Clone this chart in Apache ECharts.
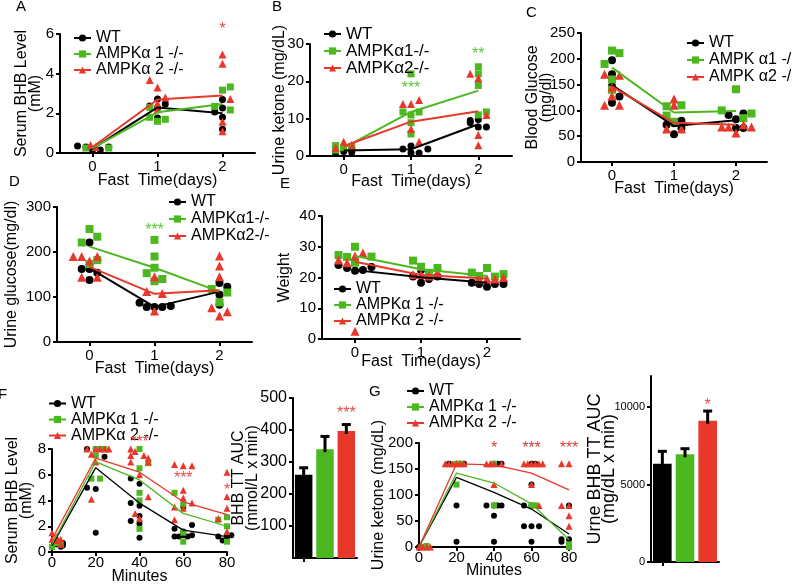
<!DOCTYPE html>
<html><head><meta charset="utf-8">
<script src="https://cdn.jsdelivr.net/npm/echarts@6/dist/echarts.min.js"></script>
<style>html,body{margin:0;padding:0;background:#fff}#c{width:792px;height:586px}</style>
</head><body><div id="c"></div>
<script>
const BLACK='#000000', GREEN='#4cb81f', RED='#e8382b';
const STAR_GREEN='#5cc83a', STAR_RED='#ee4a44';
const FONT='Liberation Sans';

const DAYS=[0,1,2];
const MINUTES=[0,20,40,60,80];
const NAMES_A=['WT','AMPKα 1 -/-','AMPKα 2 -/-'];
const NAMES_BD=['WT','AMPKα1-/-','AMPKα2-/-'];
const NAMES_C=['WT','AMPK α1 -/-','AMPK α2 -/-'];
const BAR_CATS=['WT','AMPKα1-/-','AMPKα2-/-'];

// ---- Panel A: Serum BHB (mM) ----
const A_WT_PTS=[[-0.23,0.35],[-0.1,0.3],[0,0.15],[0.12,0.15],[0.25,0.3],[0.88,2.37],[1,2.72],[1,2.27],[1,1.76],[1.12,2.47],[1.88,2.07],[2,2.7],[2,2.27],[2,1.8],[2,1.2]];
const A_A1_PTS=[[-0.1,0.25],[0.25,0.25],[0.88,1.8],[1,1.6],[1.12,1.7],[0.88,2.3],[1.88,2.35],[2,3.17],[2.12,3.33],[2.12,2.17]];
const A_A2_PTS=[[-0.03,0.4],[0.05,0.3],[0.88,3.68],[1,3.3],[1.12,2.8],[1,2.2],[1,2.5],[2,4.97],[2,4.5],[2.12,2.72],[2,1.57],[2,1.1]];
const A_WT_MEAN=[0.22,2.3,2.0], A_A1_MEAN=[0.25,2.05,2.47], A_A2_MEAN=[0.3,2.7,2.9];
const A_STARS=[[2,6.2,'*']];

// ---- Panel B: Urine ketone ----
const B_WT_PTS=[[-0.12,1.5],[0,1.2],[0.12,1.0],[0.12,1.6],[-0.12,0.8],[0.88,1.9],[1,2.7],[1,0.9],[1.12,0.8],[1.25,1.9],[1.88,8.9],[1.88,9.5],[2,9.8],[2,7.8],[2.12,7.8]];
const B_A1_PTS=[[-0.12,2.8],[-0.12,1.6],[0,2.2],[0.12,2.6],[0.88,11.8],[1,22],[1,11],[1,8.9],[1,5.9],[1.12,11.8],[2,23.9],[2,22],[2,18.9],[2,11],[2.12,11.8]];
const B_A2_PTS=[[0,3.8],[0.12,3.0],[-0.12,2.2],[0.88,13.9],[1,13.9],[1.12,15],[1,7.2],[1.12,3.8],[1.88,22],[2,20.8],[2.12,11],[2,5.6],[2,2.9]];
const B_WT_MEAN=[1.5,1.8,8.5], B_A1_MEAN=[2.2,11.8,17.5], B_A2_MEAN=[2.6,9.2,12.0];
const B_STARS=[[1,18.0,'***'],[2,27.1,'**']];

// ---- Panel C: Blood glucose ----
const C_WT_PTS=[[0,197],[0,170],[0,147],[0,115],[0.12,127],[0.88,72],[1,75],[1,54],[1.12,80],[1.12,66],[1.88,91],[2,83],[2,66],[2.12,94],[2.12,66]];
const C_A1_PTS=[[0,216],[0.12,211],[-0.12,190],[0,160],[0,140],[0.88,108],[0.88,90],[1,78],[1.12,110],[1.77,100],[2,141],[2.12,85],[2.25,94]];
const C_A2_PTS=[[-0.12,170],[0.12,168],[0,145],[0,128],[-0.12,110],[0.12,110],[1,122],[1,110],[0.88,64],[1.12,64],[1.77,68],[1.88,68],[2,56],[2.12,72],[2.25,68]];
const C_WT_MEAN=[149,70,81], C_A1_MEAN=[183,96,99], C_A2_MEAN=[146,76,72];

// ---- Panel D: Urine glucose ----
const D_WT_PTS=[[0,221],[-0.12,162],[0,162],[0,138],[0.12,154],[0.77,87],[0.88,78],[1,78],[1.12,78],[1.25,80],[2,131],[2.12,123],[2,105],[2,83]];
const D_A1_PTS=[[-0.12,221],[0,251],[0.12,234],[0.12,182],[0,173],[0.88,153],[1,227],[1,190],[1,165],[1.12,140],[1,135],[1.88,118],[2.12,110],[2,88]];
const D_A2_PTS=[[-0.25,190],[-0.12,190],[0,180],[0.12,190],[-0.12,144],[0.12,144],[1,145],[0.88,112],[1.12,108],[1,69],[2,191],[2,169],[2,145],[1.88,76],[2,58],[2.12,67]];
const D_WT_MEAN=[164,78,112], D_A1_MEAN=[212,165,112], D_A2_MEAN=[167,107,115];
const D_STARS=[[1,248,'***']];

// ---- Panel E: Weight ----
const E_WT_PTS=[[-0.25,24.1],[-0.12,23.1],[0,22.2],[0.12,22.4],[0.25,23.4],[0.88,20.3],[1,22.4],[1,18.3],[1.12,19.5],[1.25,20.3],[1.77,18.3],[1.88,17.9],[2,17.0],[2.12,17.9],[2.25,17.9]];
const E_A1_PTS=[[-0.25,27.3],[-0.12,26.7],[0,30],[0,24.8],[0.25,26.8],[0.88,25.5],[1,23.5],[1.12,21.5],[1.25,23.1],[1.77,21.6],[1.88,20.5],[2,23.1],[2.12,20.3],[2.25,21.1]];
const E_A2_PTS=[[-0.25,25.7],[-0.12,24.8],[0,27],[0.12,28],[0,2.5],[0.88,21],[1,21],[1.12,20.5],[1.25,21.5],[1.88,19.5],[2,19.5],[2.12,19.5],[2.25,20]];
const E_WT_MEAN=[22.4,20.1,18.3], E_A1_MEAN=[27,22.7,20.5], E_A2_MEAN=[25.1,20.8,19.7];

// ---- Panel F: Serum BHB time course ----
const F_WT_PTS=[[2,0.6],[4,0.4],[5,0.5],[5,0.7],[16,5.0],[20,4.9],[20,1.5],[20,8.0],[24,7.4],[16,8.0],[36,5.7],[40,5.3],[36,3.8],[40,3.6],[40,2.8],[36,2.4],[40,2.2],[40,1.1],[56,1.8],[60,1.6],[64,2.1],[56,1.2],[58,1.2],[60,1.3],[62,1.2],[64,1.3],[60,3.5],[76,1.2],[78,0.9],[80,1.1],[80,1.3],[82,1.3]];
const F_A1_PTS=[[0,0.4],[2,0.7],[4,0.6],[18,5.7],[22,5.7],[20,7.5],[20,8.0],[22,8.0],[24,8.0],[40,8.0],[40,6.5],[44,6.9],[40,4.6],[40,4.0],[40,1.8],[56,4.6],[60,3.7],[60,1.5],[60,0.8],[80,2.7],[80,2.0],[80,0.8],[76,2.5]];
const F_A2_PTS=[[0,1.5],[0,1.0],[2,1.2],[2,0.9],[4,1.0],[4,0.6],[16,8.0],[18,7.6],[20,8.0],[22,8.0],[24,8.0],[26,8.0],[18,4.1],[20,7.0],[36,8.0],[36,7.5],[38,7.8],[42,7.5],[44,7.3],[44,7.0],[40,6.0],[44,4.3],[38,3.0],[40,2.6],[36,7.0],[56,6.8],[60,6.7],[64,6.7],[60,4.8],[60,4.2],[64,3.8],[56,3.5],[60,3.4],[56,2.5],[80,6.2],[80,4.3],[80,3.4],[76,2.6],[80,1.6]];
const F_WT_MEAN=[0.5,6.55,3.8,1.7,1.2], F_A1_MEAN=[0.6,7.0,5.6,3.0,2.0], F_A2_MEAN=[1.0,7.3,6.2,3.9,2.9];
const F_STARS=[[40,8.5,'***'],[60,5.7,'***'],[80,4.8,'*']];

// ---- Panel F bar: BHB TT AUC ----
const FBAR_MEAN=[260,340,397], FBAR_SEM=[22,40,20];
const FBAR_STARS=[[2,452,'***']];

// ---- Panel G: Urine ketone time course ----
const G_WT_PTS=[[0,0],[2,0],[4,0],[16,160],[20,160],[22,160],[24,160],[20,80],[20,10],[40,160],[42,160],[44,160],[36,80],[40,80],[42,80],[44,80],[40,60],[40,10],[60,160],[62,160],[60,120],[56,80],[60,80],[56,40],[60,40],[64,40],[60,10],[80,80],[76,15],[76,10],[80,15],[80,5]];
const G_A1_PTS=[[2,0],[4,2],[20,120],[20,160],[22,160],[40,160],[40,80],[60,80],[62,80],[80,5],[80,0]];
const G_A2_PTS=[[0,0],[2,0],[4,0],[6,0],[14,160],[16,160],[18,160],[20,160],[22,160],[24,160],[36,160],[38,160],[40,160],[40,120],[44,160],[56,160],[58,160],[60,160],[62,160],[64,160],[66,160],[60,120],[64,80],[76,160],[80,160],[76,80],[80,80],[80,60],[80,40]];
const G_WT_MEAN=[0,134,105,73,25], G_A1_MEAN=[0,142,123,83,14], G_A2_MEAN=[0,160,158,142,110];
const G_STARS=[[40,190,'*'],[60,190,'***'],[80,190,'***']];

// ---- Panel G bar: Urine BHB TT AUC ----
const GBAR_MEAN=[6340,6950,9110], GBAR_SEM=[800,360,630];
const GBAR_STARS=[[2,10100,'*']];

// ================= layout =================
const GRIDS=[
 {left:60, top:34, width:195, height:119},   // A
 {left:310,top:44, width:202, height:112},   // B
 {left:581,top:33, width:186, height:129},   // C
 {left:57, top:207,width:195, height:135},   // D
 {left:322,top:216,width:198, height:123},   // E
 {left:52, top:449,width:175, height:106},   // F
 {left:293,top:398,width:64,  height:160},   // F bar
 {left:419,top:443,width:150, height:104},   // G
 {left:651,top:376,width:68,  height:186}    // G bar
];

const AX_LINE={show:true,onZero:false,lineStyle:{color:'#000',width:2}};
const NAME_STYLE={fontSize:16,color:'#000',fontFamily:FONT,lineHeight:14};
function tick(len,custom){const t={show:true,length:len,lineStyle:{color:'#000',width:2}}; if(custom) t.customValues=custom; return t;}
function lab(size,custom,margin){const l={show:true,fontSize:size,color:'#000',fontFamily:FONT,margin:margin||6,formatter:v=>String(v)}; if(custom) l.customValues=custom; return l;}

function yVal(gi,max,interval,name,gap,opt){
  opt=opt||{};
  return {type:'value',gridIndex:gi,min:0,max:max,interval:interval,name:name,nameLocation:'middle',nameGap:gap,nameMoveOverlap:false,
    nameTextStyle:Object.assign({},NAME_STYLE,opt.nameStyle||{}),
    axisLine:AX_LINE,axisTick:tick(4,opt.ticks),axisLabel:lab(opt.fs||15,opt.labels),splitLine:{show:false}};
}
function xDay(gi,gap){
  return {type:'value',gridIndex:gi,min:-0.5,max:2.5,name:'Fast  Time(days)',nameLocation:'middle',nameGap:gap,nameMoveOverlap:false,
    nameTextStyle:NAME_STYLE,axisLine:AX_LINE,axisTick:tick(4,DAYS),axisLabel:lab(15,DAYS),splitLine:{show:false}};
}
function xMin(gi,gap){
  return {type:'value',gridIndex:gi,min:0,max:80,interval:20,name:'Minutes',nameLocation:'middle',nameGap:gap,nameMoveOverlap:false,
    nameTextStyle:NAME_STYLE,axisLine:AX_LINE,axisTick:tick(4),axisLabel:lab(15,null,3),splitLine:{show:false}};
}
function xBar(gi){
  return {type:'category',gridIndex:gi,data:BAR_CATS,axisLine:AX_LINE,axisTick:{show:true,alignWithLabel:true,length:4,lineStyle:{color:'#000',width:2}},axisLabel:{show:false},splitLine:{show:false}};
}

const xAxes=[xDay(0,21),xDay(1,19),xDay(2,20),xDay(3,20),xDay(4,16),xMin(5,18),xBar(6),xMin(7,17),xBar(8)];
const yAxes=[
 yVal(0,6,2,'Serum BHB Level\n(mM)',17),
 yVal(1,30,10,'Urine ketone (mg/dL)',23),
 yVal(2,250,50,'Blood Glucose\n(mg/dl)',27),
 yVal(3,300,100,'Urine glucose(mg/dl)',38),
 yVal(4,40,10,'Weight',30),
 yVal(5,8,2,'Serum BHB Level\n(mM)',18),
 yVal(6,500,100,'BHB TT AUC\n(mmol/L x min)',33,{labels:[100,200,300,400,500],ticks:[100,200,300,400,500],fs:16}),
 yVal(7,200,50,'Urine ketone (mg/dL)',33),
 yVal(8,12000,5000,'Urne BHB TT AUC\n(mg/dL x min)',35,{labels:[0,5000,10000],ticks:[0,5000,10000],fs:11,nameStyle:{fontSize:18,lineHeight:14}})
];

const series=[];
const COLS=[BLACK,GREEN,RED], SYMS=['circle','rect','triangle'];
function panel(gi,xs,names,means,pts,lw,ss){
  for(let k=0;k<3;k++){
    series.push({type:'line',name:names[k],xAxisIndex:gi,yAxisIndex:gi,data:xs.map((x,i)=>[x,means[k][i]]),
      color:COLS[k],symbol:SYMS[k],showSymbol:false,lineStyle:{width:lw,color:COLS[k]},itemStyle:{color:COLS[k]},z:3,silent:true});
  }
  for(let k=0;k<3;k++){
    series.push({type:'scatter',name:names[k],xAxisIndex:gi,yAxisIndex:gi,data:pts[k],symbol:SYMS[k],
      symbolSize:k===2?ss+1:ss,itemStyle:{color:COLS[k],opacity:1},clip:false,z:2,silent:true});
  }
}
function stars(gi,list,color){
  series.push({type:'scatter',xAxisIndex:gi,yAxisIndex:gi,symbolSize:2,itemStyle:{color:'rgba(0,0,0,0)'},clip:false,silent:true,z:6,
    data:list.map(s=>({value:[s[0],s[1]],label:{formatter:s[2]}})),
    label:{show:true,position:'inside',fontSize:16,color:color,fontFamily:FONT,opacity:1}});
}
function errBar(params,api){
  const i=api.value(0), m=api.value(1), e=api.value(2);
  const top=api.coord([i,m+e]), base=api.coord([i,m]);
  return {type:'group',children:[
    {type:'line',shape:{x1:top[0],y1:top[1],x2:base[0],y2:base[1]+3},style:{stroke:'#000',lineWidth:3}},
    {type:'line',shape:{x1:top[0]-4.5,y1:top[1],x2:top[0]+4.5,y2:top[1]},style:{stroke:'#000',lineWidth:3}}
  ]};
}
function bars(gi,mean,sem){
  series.push({type:'bar',xAxisIndex:gi,yAxisIndex:gi,barWidth:'82%',silent:true,
    data:mean.map((v,i)=>({value:v,itemStyle:{color:COLS[i]}}))});
  series.push({type:'custom',xAxisIndex:gi,yAxisIndex:gi,silent:true,z:5,renderItem:errBar,
    data:mean.map((v,i)=>[i,v,sem[i]])});
}

panel(0,DAYS,NAMES_A,[A_WT_MEAN,A_A1_MEAN,A_A2_MEAN],[A_WT_PTS,A_A1_PTS,A_A2_PTS],2,7);
panel(1,DAYS,NAMES_BD,[B_WT_MEAN,B_A1_MEAN,B_A2_MEAN],[B_WT_PTS,B_A1_PTS,B_A2_PTS],2,7);
panel(2,DAYS,NAMES_C,[C_WT_MEAN,C_A1_MEAN,C_A2_MEAN],[C_WT_PTS,C_A1_PTS,C_A2_PTS],2,8);
panel(3,DAYS,NAMES_BD,[D_WT_MEAN,D_A1_MEAN,D_A2_MEAN],[D_WT_PTS,D_A1_PTS,D_A2_PTS],2,8);
panel(4,DAYS,NAMES_A,[E_WT_MEAN,E_A1_MEAN,E_A2_MEAN],[E_WT_PTS,E_A1_PTS,E_A2_PTS],2,8);
panel(5,MINUTES,NAMES_A,[F_WT_MEAN,F_A1_MEAN,F_A2_MEAN],[F_WT_PTS,F_A1_PTS,F_A2_PTS],1.3,6);
panel(7,MINUTES,NAMES_A,[G_WT_MEAN,G_A1_MEAN,G_A2_MEAN],[G_WT_PTS,G_A1_PTS,G_A2_PTS],1.3,6);
bars(6,FBAR_MEAN,FBAR_SEM);
bars(8,GBAR_MEAN,GBAR_SEM);
stars(0,A_STARS,STAR_RED);
stars(1,B_STARS,STAR_GREEN);
stars(3,D_STARS,STAR_GREEN);
stars(5,F_STARS,STAR_RED);
stars(6,FBAR_STARS,STAR_RED);
stars(7,G_STARS,'#d2413a');
stars(8,GBAR_STARS,STAR_RED);

function legend(names,left,top,lh,fs){
  return {orient:'vertical',left:left,top:top,padding:0,itemGap:0,itemWidth:17,itemHeight:9,selectedMode:false,
    data:names,textStyle:{fontSize:fs||16,color:'#000',fontFamily:FONT,lineHeight:lh}};
}
const legends=[
  legend(NAMES_A,73,30,15.5),
  legend(NAMES_BD,323,25.5,15,17),
  legend(NAMES_C,686,34.5,17),
  legend(NAMES_BD,168,193.5,17),
  legend(NAMES_A,333,281,16),
  legend(NAMES_A,48,395.5,15),
  legend(NAMES_A,406,383,16)
];

const PANEL_LABELS=[['A',21,7],['B',277,7],['C',531,13],['D',14,182],['E',285,184],['F',3,395],['G',374,392]];
const graphic=PANEL_LABELS.map(p=>({type:'text',left:p[1]-5,top:p[2]-8,style:{text:p[0],fontSize:15,fill:'#000',fontFamily:FONT}}));

const chart=echarts.init(document.getElementById('c'),null,{renderer:'canvas'});
chart.setOption({animation:false,backgroundColor:'#fff',textStyle:{fontFamily:FONT},
  grid:GRIDS.map(g=>Object.assign({containLabel:false},g)),
  xAxis:xAxes,yAxis:yAxes,legend:legends,series:series,graphic:graphic});
</script></body></html>
